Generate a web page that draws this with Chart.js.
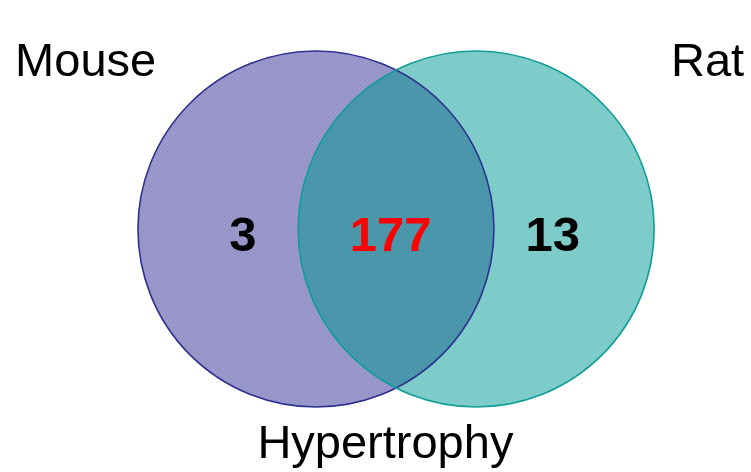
<!DOCTYPE html>
<html>
<head>
<meta charset="utf-8">
<script src="https://cdn.jsdelivr.net/npm/chart.js@4.4.1/dist/chart.umd.min.js"></script>
<style>
html, body { margin: 0; padding: 0; background: #fff; }
#wrap { width: 751px; height: 472px; }
</style>
</head>
<body>
<div id="wrap"><canvas id="venn"></canvas></div>
<script>
// sets and counts
const setNames = ["Mouse", "Rat"];
const onlyCounts = [3, 13];
const sharedCount = 177;
const groupName = "Hypertrophy";

// venn layout, in circle-radius units
const circleX = [-0.45, 0.45];
const circleY = [0, 0];
const circleR = 1;
const nameX = [-1.744, 1.75];
const nameY = [0.86, 0.86];
const countX = [-0.86, 0.88];
const sharedX = -0.03;
const countY = -0.125;
const groupX = -0.06;
const groupY = -1.285;

const fills = ["#9b98cb", "#80cecb"];
const strokes = ["#2e3192", "#119d97"];
const overlapFill = "#4c99ae";

function checker(base, alt){
  const c = document.createElement("canvas");
  c.width = 4; c.height = 4;
  const g = c.getContext("2d");
  g.fillStyle = base; g.fillRect(0, 0, 4, 4);
  g.fillStyle = alt; g.fillRect(0, 0, 2, 2); g.fillRect(2, 2, 2, 2);
  return g.createPattern(c, "repeat");
}

const patterns = [
  checker(fills[0], "#9693c8"),
  checker(fills[1], "#7bcac7")
];
const overlapPattern = checker(overlapFill, "#4895aa");

function pxRadius(chart){
  const s = chart.scales.x;
  return s.getPixelForValue(circleR) - s.getPixelForValue(0);
}

const vennPlugin = {
  id: "vennPlugin",
  afterDatasetsDraw(chart){
    const ctx = chart.ctx;
    const x = chart.scales.x, y = chart.scales.y;
    const els = [0, 1].map(i => chart.getDatasetMeta(i).data[0]);
    const r = pxRadius(chart);

    // textured fills on top of the bubbles
    els.forEach((el, i) => {
      ctx.beginPath();
      ctx.arc(el.x, el.y, r, 0, Math.PI * 2);
      ctx.fillStyle = patterns[i];
      ctx.fill();
    });

    // overlap lens
    ctx.save();
    ctx.beginPath();
    ctx.arc(els[0].x, els[0].y, r, 0, Math.PI * 2);
    ctx.clip();
    ctx.beginPath();
    ctx.arc(els[1].x, els[1].y, r, 0, Math.PI * 2);
    ctx.fillStyle = overlapPattern;
    ctx.fill();
    ctx.restore();

    // outlines
    els.forEach((el, i) => {
      ctx.beginPath();
      ctx.arc(el.x, el.y, r, 0, Math.PI * 2);
      ctx.strokeStyle = strokes[i];
      ctx.lineWidth = 1.6;
      ctx.stroke();
    });

    ctx.save();
    ctx.textAlign = "center";
    ctx.textBaseline = "alphabetic";

    // set names
    ctx.font = "47px 'Liberation Sans', Arial, sans-serif";
    ctx.fillStyle = "#000";
    setNames.forEach((n, i) => {
      ctx.fillText(n, x.getPixelForValue(nameX[i]), y.getPixelForValue(nameY[i]));
    });
    ctx.fillText(groupName, x.getPixelForValue(groupX), y.getPixelForValue(groupY));

    // counts
    ctx.font = "bold 49px 'Liberation Sans', Arial, sans-serif";
    onlyCounts.forEach((c, i) => {
      ctx.fillText(String(c), x.getPixelForValue(countX[i]), y.getPixelForValue(countY));
    });
    ctx.fillStyle = "#ff0000";
    ctx.fillText(String(sharedCount), x.getPixelForValue(sharedX), y.getPixelForValue(countY));
    ctx.restore();
  }
};

new Chart(document.getElementById("venn"), {
  type: "bubble",
  data: {
    datasets: setNames.map((n, i) => ({
      label: n,
      data: [{ x: circleX[i], y: circleY[i] }],
      backgroundColor: fills[i],
      borderColor: strokes[i],
      borderWidth: 1.6,
      radius: ctx => pxRadius(ctx.chart)
    }))
  },
  options: {
    responsive: true,
    maintainAspectRatio: false,
    animation: false,
    events: [],
    layout: { padding: 0 },
    plugins: { legend: { display: false }, tooltip: { enabled: false } },
    scales: {
      x: { display: false, min: -2.225, max: 1.994 },
      y: { display: false, min: -1.365, max: 1.287 }
    }
  },
  plugins: [vennPlugin]
});
</script>
</body>
</html>
